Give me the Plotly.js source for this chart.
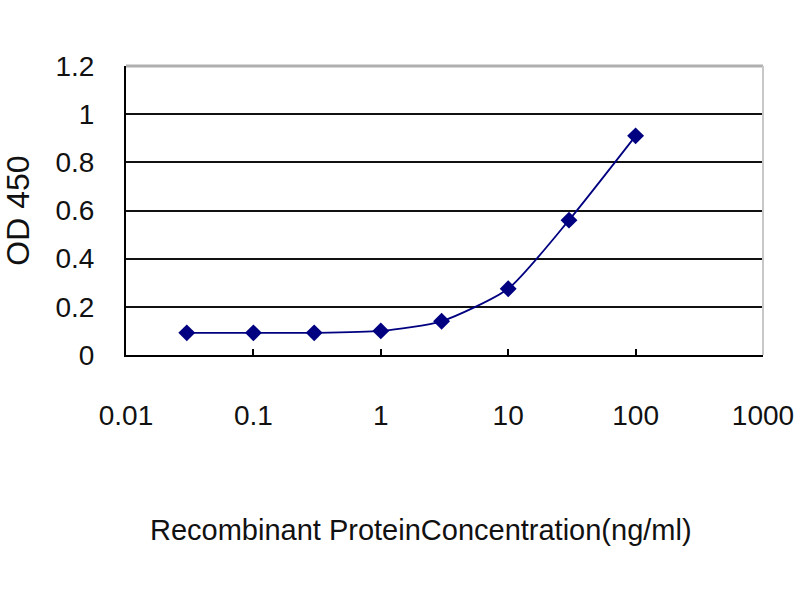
<!DOCTYPE html>
<html>
<head>
<meta charset="utf-8">
<script src="https://cdn.plot.ly/plotly-3.0.1.min.js"></script>
<style>html,body{margin:0;padding:0;background:#fff;}#chart{width:800px;height:600px;}</style>
</head>
<body>
<div id="chart"></div>
<script>
const concentrations = [0.03, 0.1, 0.3, 1, 3, 10, 30, 100];
const od450 = [0.092, 0.092, 0.092, 0.10, 0.14, 0.275, 0.56, 0.91];
const xTickVals = [0.01, 0.1, 1, 10, 100, 1000];
const xTickText = ['0.01', '0.1', '1', '10', '100', '1000'];
const yTickVals = [0, 0.2, 0.4, 0.6, 0.8, 1, 1.2];
const yTickText = ['0', '0.2', '0.4', '0.6', '0.8', '1', '1.2'];
const xTitle = 'Recombinant ProteinConcentration(ng/ml)';
const yTitle = 'OD 450';

const font = 'Liberation Sans, Arial, sans-serif';

Plotly.newPlot('chart', [{
  x: concentrations,
  y: od450,
  type: 'scatter',
  mode: 'lines+markers',
  line: {color: '#000080', width: 1.8, shape: 'spline', smoothing: 0.6},
  marker: {symbol: 'diamond', size: 13, color: '#000080'},
  showlegend: false,
  hoverinfo: 'x+y'
}], {
  width: 800, height: 600,
  paper_bgcolor: '#ffffff', plot_bgcolor: '#ffffff',
  margin: {l: 126, r: 37, t: 66, b: 245},
  font: {family: font, color: '#111', size: 28},
  xaxis: {
    type: 'log',
    range: [Math.log10(0.01), Math.log10(1000)],
    tickvals: xTickVals, ticktext: xTickText,
    ticks: 'inside', ticklen: 6, tickwidth: 2, tickcolor: '#000',
    showgrid: false, zeroline: false,
    showline: true, linecolor: '#000', linewidth: 2,
    tickfont: {family: font, size: 28, color: '#111'},
    ticklabelstandoff: 34
  },
  yaxis: {
    range: [0, 1.2],
    tickvals: yTickVals, ticktext: yTickText,
    ticks: '', showgrid: true, gridcolor: '#111', gridwidth: 2,
    zeroline: false,
    showline: true, linecolor: '#000', linewidth: 2,
    tickfont: {family: font, size: 28, color: '#111'},
    ticklabelstandoff: 24,
    title: {text: yTitle, font: {family: font, size: 32, color: '#111'}, standoff: 16}
  },
  annotations: [{
    text: xTitle, xref: 'paper', yref: 'paper', x: 0.463, y: -0.606,
    xanchor: 'center', yanchor: 'middle', showarrow: false,
    font: {family: font, size: 29, color: '#111'}
  }],
  shapes: [
    {type: 'line', xref: 'paper', yref: 'paper', x0: 0, x1: 1, y0: 1, y1: 1, line: {color: '#b0b0b0', width: 3}, layer: 'above'},
    {type: 'line', xref: 'paper', yref: 'paper', x0: 1, x1: 1, y0: 0, y1: 1, line: {color: '#c8c8c8', width: 2}, layer: 'above'}
  ]
}, {displayModeBar: false, staticPlot: true});
</script>
</body>
</html>
